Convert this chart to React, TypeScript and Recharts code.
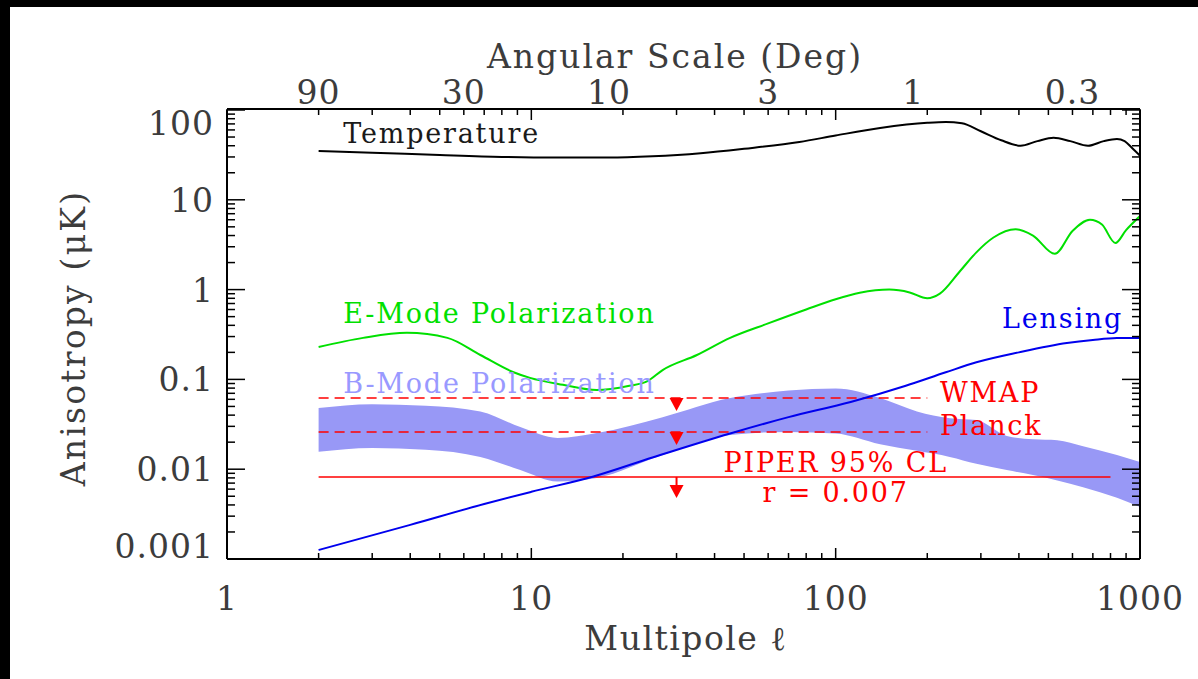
import React from 'react';
import { ComposedChart, Line, Area, Scatter, XAxis, YAxis, ReferenceDot } from 'recharts';

// ---------- data ----------
const ellTicks = [1, 2, 3, 4, 5, 6, 7, 8, 9, 10, 20, 30, 40, 50, 60, 70, 80, 90, 100, 200, 300, 400, 500, 600, 700, 800, 900, 1000];
const yTicks = [
  0.001, 0.002, 0.003, 0.004, 0.005, 0.006, 0.007, 0.008, 0.009,
  0.01, 0.02, 0.03, 0.04, 0.05, 0.06, 0.07, 0.08, 0.09,
  0.1, 0.2, 0.3, 0.4, 0.5, 0.6, 0.7, 0.8, 0.9,
  1, 2, 3, 4, 5, 6, 7, 8, 9,
  10, 20, 30, 40, 50, 60, 70, 80, 90, 100,
];
const yTickLabels = ['0.001', '0.01', '0.1', '1', '10', '100'];
const angularDeg = [90, 30, 10, 3, 1, 0.3];

const temperature = [
  { l: 2, v: 35 }, { l: 3, v: 33.5 }, { l: 5, v: 31.5 }, { l: 8, v: 30 }, { l: 12, v: 29.5 },
  { l: 18, v: 29.5 }, { l: 25, v: 30.5 }, { l: 36, v: 33 }, { l: 50, v: 37 }, { l: 76, v: 44 },
  { l: 100, v: 52 }, { l: 140, v: 63 }, { l: 200, v: 72 }, { l: 230, v: 73.5 }, { l: 260, v: 71 },
  { l: 300, v: 58 }, { l: 350, v: 46 }, { l: 405, v: 40 }, { l: 460, v: 45 }, { l: 520, v: 49 },
  { l: 590, v: 45 }, { l: 675, v: 40 }, { l: 760, v: 45 }, { l: 840, v: 47.5 }, { l: 890, v: 45 },
  { l: 940, v: 38 }, { l: 1000, v: 31 },
];

const eMode = [
  { l: 2, v: 0.23 }, { l: 2.8, v: 0.29 }, { l: 3.9, v: 0.33 }, { l: 5.3, v: 0.29 }, { l: 6.8, v: 0.187 },
  { l: 8.7, v: 0.121 }, { l: 9.9, v: 0.104 }, { l: 12.7, v: 0.087 }, { l: 16.4, v: 0.076 }, { l: 21, v: 0.085 },
  { l: 24, v: 0.095 }, { l: 27, v: 0.127 }, { l: 35, v: 0.187 }, { l: 45, v: 0.29 }, { l: 60, v: 0.42 },
  { l: 80, v: 0.6 }, { l: 100, v: 0.78 }, { l: 120, v: 0.92 }, { l: 150, v: 1.0 }, { l: 175, v: 0.93 },
  { l: 200, v: 0.8 }, { l: 220, v: 0.9 }, { l: 256, v: 1.6 }, { l: 290, v: 2.6 }, { l: 330, v: 3.8 },
  { l: 390, v: 4.7 }, { l: 445, v: 4.0 }, { l: 525, v: 2.5 }, { l: 600, v: 4.5 }, { l: 685, v: 6.0 },
  { l: 750, v: 5.3 }, { l: 830, v: 3.3 }, { l: 900, v: 4.6 }, { l: 1000, v: 6.6 },
];

const lensing = [
  { l: 2, v: 0.00126 }, { l: 4, v: 0.0024 }, { l: 7, v: 0.0041 }, { l: 10, v: 0.0056 }, { l: 16, v: 0.0083 },
  { l: 25, v: 0.0135 }, { l: 45, v: 0.025 }, { l: 70, v: 0.038 }, { l: 112, v: 0.056 }, { l: 170, v: 0.085 },
  { l: 230, v: 0.12 }, { l: 290, v: 0.155 }, { l: 400, v: 0.2 }, { l: 575, v: 0.254 }, { l: 700, v: 0.275 },
  { l: 840, v: 0.289 }, { l: 1000, v: 0.29 },
];

const bModeBand = [
  { l: 2, lo: 0.0156, hi: 0.048 }, { l: 3, lo: 0.0172, hi: 0.053 }, { l: 4.5, lo: 0.0165, hi: 0.051 },
  { l: 6.8, lo: 0.0137, hi: 0.044 }, { l: 9.2, lo: 0.0098, hi: 0.0295 }, { l: 12.2, lo: 0.0073, hi: 0.0223 },
  { l: 16.4, lo: 0.008, hi: 0.0253 }, { l: 27, lo: 0.0144, hi: 0.038 }, { l: 45, lo: 0.0241, hi: 0.062 },
  { l: 70, lo: 0.026, hi: 0.075 }, { l: 100, lo: 0.025, hi: 0.079 }, { l: 140, lo: 0.019, hi: 0.062 },
  { l: 185, lo: 0.016, hi: 0.044 }, { l: 237, lo: 0.0137, hi: 0.037 }, { l: 290, lo: 0.0115, hi: 0.0353 },
  { l: 365, lo: 0.0098, hi: 0.0235 }, { l: 445, lo: 0.0086, hi: 0.0215 }, { l: 535, lo: 0.0075, hi: 0.021 },
  { l: 650, lo: 0.0063, hi: 0.018 }, { l: 840, lo: 0.0048, hi: 0.0144 }, { l: 1000, lo: 0.0038, hi: 0.012 },
];

const wmapLimit = [{ l: 2, v: 0.062 }, { l: 200, v: 0.062 }];
const planckLimit = [{ l: 2, v: 0.026 }, { l: 200, v: 0.026 }];
const piperLimit = [{ l: 2, v: 0.0082 }, { l: 800, v: 0.0082 }];
const dashedArrows = [{ l: 30, v: 0.062 }, { l: 30, v: 0.026 }];
const piperArrow = [{ l: 30, v: 0.0082 }];

// ---------- styles ----------
const FONT = '"DejaVu Serif", serif';
const TICK_COLOR = '#3c3c3c';
const isMajor = (v: number) => Math.abs(Math.log10(v) - Math.round(Math.log10(v))) < 1e-6;

const BottomTick = (p: any) => {
  const { x, y, payload } = p;
  const v = payload.value;
  const major = isMajor(v);
  return (
    <g>
      <line x1={x} x2={x} y1={y} y2={y - (major ? 11 : 6)} stroke="#000" strokeWidth={1.5} />
      {major && (
        <text x={x} y={y + 51} textAnchor="middle" fontFamily={FONT} fontSize={33} fill={TICK_COLOR} letterSpacing={1}>
          {String(v)}
        </text>
      )}
    </g>
  );
};

const TopTick = (p: any) => {
  const { x, y, payload } = p;
  const major = isMajor(payload.value);
  return <line x1={x} x2={x} y1={y} y2={y + (major ? 11 : 6)} stroke="#000" strokeWidth={1.5} />;
};

const AngularTick = (p: any) => {
  const { x, y, index } = p;
  return (
    <text x={x} y={y - 6} textAnchor="middle" fontFamily={FONT} fontSize={33} fill={TICK_COLOR} letterSpacing={1}>
      {String(angularDeg[index])}
    </text>
  );
};

const LeftTick = (p: any) => {
  const { x, y, payload } = p;
  const v = payload.value;
  const major = isMajor(v);
  const idx = Math.round(Math.log10(v)) + 3;
  let dy = 12;
  if (idx === 5) dy = 25;
  if (idx === 0) dy = -1;
  return (
    <g>
      <line x1={x} x2={x + (major ? 18 : 8)} y1={y} y2={y} stroke="#000" strokeWidth={1.5} />
      {major && (
        <text x={x - 13} y={y + dy} textAnchor="end" fontFamily={FONT} fontSize={33} fill={TICK_COLOR} letterSpacing={1}>
          {yTickLabels[idx]}
        </text>
      )}
    </g>
  );
};

const RightTick = (p: any) => {
  const { x, y, payload } = p;
  const major = isMajor(payload.value);
  return <line x1={x} x2={x - (major ? 18 : 8)} y1={y} y2={y} stroke="#000" strokeWidth={1.5} />;
};

const anno = (text: string, color: string, anchor: 'start' | 'middle' | 'end' = 'start') => (props: any) => {
  const vb = props.viewBox || {};
  return (
    <text x={vb.x} y={vb.y} textAnchor={anchor} fontFamily={FONT} fontSize={27} fill={color} letterSpacing={1.8}>
      {text}
    </text>
  );
};

const TriangleDown = (p: any) => {
  const { cx, cy } = p;
  return <polygon points={`${cx - 7},${cy} ${cx + 7},${cy} ${cx},${cy + 13}`} fill="#ff0000" />;
};

const StemArrow = (p: any) => {
  const { cx, cy } = p;
  return (
    <g>
      <line x1={cx} x2={cx} y1={cy} y2={cy + 9} stroke="#ff0000" strokeWidth={2} />
      <polygon points={`${cx - 7},${cy + 8} ${cx + 7},${cy + 8} ${cx},${cy + 21}`} fill="#ff0000" />
    </g>
  );
};

const AX = { xAxisId: 'b', yAxisId: 'l' } as const;

export default function App() {
  return (
    <div style={{ position: 'absolute', left: 0, top: 0, width: 1198, height: 679, background: '#000', overflow: 'hidden' }}>
      <div style={{ position: 'absolute', left: 10, top: 7, width: 1188, height: 672, background: '#fff' }} />
      <div style={{ position: 'absolute', left: 0, top: 0 }}>
        <ComposedChart width={1198} height={679} margin={{ top: 108, right: 57, bottom: 119, left: 226 }}>
          <XAxis
            xAxisId="b" dataKey="l" type="number" scale="log" domain={[1, 1000]} allowDataOverflow
            ticks={ellTicks} interval={0} tickSize={0} tickMargin={0} tickLine={false} height={1}
            axisLine={{ stroke: '#000', strokeWidth: 2 }} tick={BottomTick}
          />
          <XAxis
            xAxisId="t" orientation="top" dataKey="l" type="number" scale="log" domain={[1, 1000]} allowDataOverflow
            ticks={ellTicks} interval={0} tickSize={0} tickMargin={0} tickLine={false} height={1}
            axisLine={{ stroke: '#000', strokeWidth: 2 }} tick={TopTick}
          />
          <XAxis
            xAxisId="ang" orientation="top" dataKey="l" type="number" scale="log" domain={[1, 1000]} allowDataOverflow
            ticks={angularDeg.map((d) => 180 / d)} interval={0} tickSize={0} tickMargin={0} tickLine={false} height={1}
            axisLine={false} tick={AngularTick}
          />
          <YAxis
            yAxisId="l" type="number" scale="log" domain={[0.001, 100]} allowDataOverflow
            ticks={yTicks} interval={0} tickSize={0} tickMargin={0} tickLine={false} width={1}
            axisLine={{ stroke: '#000', strokeWidth: 2 }} tick={LeftTick}
          />
          <YAxis
            yAxisId="r" orientation="right" type="number" scale="log" domain={[0.001, 100]} allowDataOverflow
            ticks={yTicks} interval={0} tickSize={0} tickMargin={0} tickLine={false} width={1}
            axisLine={{ stroke: '#000', strokeWidth: 2 }} tick={RightTick}
          />

          <Area {...AX} data={bModeBand} dataKey={(d: any) => [d.lo, d.hi]} type="monotone"
            fill="#9898f6" fillOpacity={1} stroke="none" isAnimationActive={false} />

          <Line {...AX} data={wmapLimit} dataKey="v" stroke="#ff0000" strokeWidth={1.5} strokeDasharray="10 6" dot={false} isAnimationActive={false} />
          <Line {...AX} data={planckLimit} dataKey="v" stroke="#ff0000" strokeWidth={1.5} strokeDasharray="10 6" dot={false} isAnimationActive={false} />
          <Line {...AX} data={piperLimit} dataKey="v" stroke="#ff0000" strokeWidth={1.5} dot={false} isAnimationActive={false} />

          <Line {...AX} data={lensing} dataKey="v" type="monotone" stroke="#0000ee" strokeWidth={2} dot={false} isAnimationActive={false} />
          <Line {...AX} data={eMode} dataKey="v" type="monotone" stroke="#00e000" strokeWidth={2} dot={false} isAnimationActive={false} />
          <Line {...AX} data={temperature} dataKey="v" type="monotone" stroke="#000" strokeWidth={2} dot={false} isAnimationActive={false} />

          <Scatter {...AX} data={dashedArrows} dataKey="v" shape={TriangleDown} isAnimationActive={false} />
          <Scatter {...AX} data={piperArrow} dataKey="v" shape={StemArrow} isAnimationActive={false} />

          <ReferenceDot {...AX} x={2.41} y={43} r={0} label={anno('Temperature', '#1a1a1a')} />
          <ReferenceDot {...AX} x={2.41} y={0.425} r={0} label={anno('E-Mode Polarization', '#00e000')} />
          <ReferenceDot {...AX} x={2.41} y={0.0706} r={0} label={anno('B-Mode Polarization', '#9999ff')} />
          <ReferenceDot {...AX} x={880} y={0.373} r={0} label={anno('Lensing', '#0000ee', 'end')} />
          <ReferenceDot {...AX} x={220} y={0.056} r={0} label={anno('WMAP', '#ff0000')} />
          <ReferenceDot {...AX} x={220} y={0.024} r={0} label={anno('Planck', '#ff0000')} />
          <ReferenceDot {...AX} x={100} y={0.0093} r={0} label={anno('PIPER 95% CL', '#ff0000', 'middle')} />
          <ReferenceDot {...AX} x={100} y={0.00432} r={0} label={anno('r = 0.007', '#ff0000', 'middle')} />
        </ComposedChart>
      </div>
      <svg width={1198} height={679} style={{ position: 'absolute', left: 0, top: 0, pointerEvents: 'none' }}>
        <text x={675} y={68} textAnchor="middle" fontFamily={FONT} fontSize={33} fill={TICK_COLOR} letterSpacing={2}>
          Angular Scale (Deg)
        </text>
        <text x={686} y={650} textAnchor="middle" fontFamily={FONT} fontSize={33} fill={TICK_COLOR} letterSpacing={1.5}>
          Multipole ℓ
        </text>
        <text x={85} y={338} transform="rotate(-90 85 338)" textAnchor="middle" fontFamily={FONT} fontSize={33} fill={TICK_COLOR} letterSpacing={2.2}>
          Anisotropy (μK)
        </text>
      </svg>
    </div>
  );
}
